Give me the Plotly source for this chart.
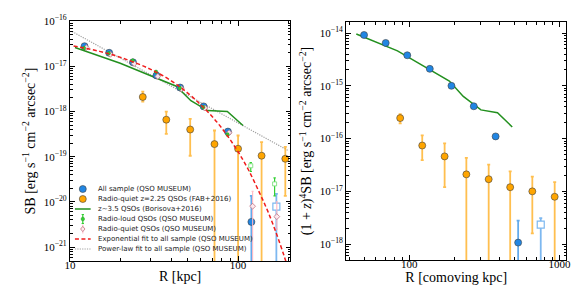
import plotly.graph_objects as go

W, H = 581, 291
MT, MB = 13, 38

# ---------------- Left panel (physical kpc) ----------------
# All sample (QSO MUSEUM)
R_all = [12.2, 17.1, 23.7, 32.7, 45.2, 62.4, 87.0, 120.0]
SB_all = [2.8e-17, 2.0e-17, 1.23e-17, 6.3e-18, 3.4e-18, 1.3e-18, 3.6e-19, 3.6e-21]
SB_all_hi = [3.0e-17, 2.1e-17, 1.3e-17, 6.7e-18, 3.6e-18, 1.4e-18, 3.9e-19, 1.35e-20]
SB_all_lo = [2.6e-17, 1.9e-17, 1.16e-17, 5.9e-18, 3.2e-18, 1.2e-18, 3.3e-19, 1e-23]
R_all_open = [169.0]
SB_all_open = [7.8e-21]
SB_all_open_hi = [1.5e-20]
SB_all_open_lo = [1e-23]

# Radio-loud QSOs (QSO MUSEUM)
R_rl = [12.1, 17.0, 23.6, 32.5, 45.0, 62.0, 86.5]
SB_rl = [2.55e-17, 1.95e-17, 1.35e-17, 7.6e-18, 3.3e-18, 1.25e-18, 3.1e-19]
SB_rl_hi = [2.7e-17, 2.05e-17, 1.42e-17, 8.0e-18, 3.5e-18, 1.32e-18, 3.3e-19]
SB_rl_lo = [2.4e-17, 1.85e-17, 1.28e-17, 7.2e-18, 3.1e-18, 1.18e-18, 2.9e-19]
R_rl_open = [119.0, 165.0]
SB_rl_open = [6.3e-20, 2.5e-20]
SB_rl_open_hi = [7.4e-20, 3.4e-20]
SB_rl_open_lo = [4.7e-20, 1.35e-20]

# Radio-quiet QSOs (QSO MUSEUM)
R_rq = [12.5, 17.4, 24.1, 33.3, 46.0, 63.5, 88.5, 122.0, 170.0]
SB_rq = [2.6e-17, 1.85e-17, 1.15e-17, 6.0e-18, 3.2e-18, 1.2e-18, 3.4e-19, 8.0e-21, 4.7e-21]
SB_rq_hi = [2.75e-17, 1.95e-17, 1.22e-17, 6.4e-18, 3.4e-18, 1.28e-18, 3.6e-19, 1.7e-20, 1.0e-20]
SB_rq_lo = [2.45e-17, 1.75e-17, 1.08e-17, 5.6e-18, 3.0e-18, 1.12e-18, 3.2e-19, 1e-23, 2.5e-21]

# Radio-quiet z=2.25 QSOs (FAB+2016)
R_fab = [27.1, 37.4, 51.9, 72.4, 100.0, 138.0, 191.0]
SB_fab = [2.1e-18, 6.6e-19, 4.0e-19, 1.9e-19, 1.5e-19, 1.05e-19, 9.0e-20]
SB_fab_hi = [2.75e-18, 1.0e-18, 6.9e-19, 3.8e-19, 2.95e-19, 2.1e-19, 1.65e-19]
SB_fab_lo = [1.66e-18, 3.2e-19, 1.05e-19, 1e-23, 1e-23, 1e-23, 1.35e-20]

# z~3.5 QSOs (Borisova+2016)
R_bor = [10.7, 19.9, 42.9, 47.1, 52.4, 65.9, 86.3, 107.0]
SB_bor = [2.63e-17, 1.17e-17, 3.63e-18, 2.51e-18, 1.74e-18, 1.05e-18, 1.0e-18, 4.9e-19]

# Exponential fit to all sample
R_exp = [10.5, 15, 20, 30, 40, 50, 62, 75, 87, 100, 115, 134, 150, 169, 188, 200]
SB_exp = [2.82e-17, 2.15e-17, 1.58e-17, 8.7e-18, 4.8e-18, 2.6e-18, 1.25e-18, 5.8e-19,
          2.8e-19, 1.29e-19, 5.2e-20, 1.6e-20, 6.3e-21, 2.0e-21, 6.3e-22, 3.1e-22]

# Power-law fit to all sample
R_pl = [10.3, 200.0]
SB_pl = [5.9e-17, 1.35e-19]

# ---------------- Right panel (comoving kpc, (1+z)^4 SB) ----------------
Rc_all = [50, 69.7, 97, 137, 191, 269, 376, 531]
SBc_all = [9.2e-15, 6.5e-15, 3.8e-15, 2.1e-15, 1.0e-15, 4.1e-16, 1.1e-16, 1.07e-18]
SBc_all_hi = [9.7e-15, 6.8e-15, 4.0e-15, 2.2e-15, 1.05e-15, 4.3e-16, 1.15e-16, 2.8e-18]
SBc_all_lo = [8.7e-15, 6.2e-15, 3.6e-15, 2.0e-15, 0.95e-15, 3.9e-16, 1.05e-16, 1e-23]
Rc_all_open = [751]
SBc_all_open = [2.35e-18]
SBc_all_open_hi = [3.1e-18]
SBc_all_open_lo = [1e-23]

Rc_fab = [87, 122, 172, 240, 338, 470, 660, 930]
SBc_fab = [2.45e-16, 7.4e-17, 4.6e-17, 2.1e-17, 1.7e-17, 1.2e-17, 1.0e-17, 7.9e-18]
SBc_fab_hi = [2.9e-16, 1.15e-16, 8.1e-17, 4.3e-17, 3.2e-17, 2.4e-17, 1.9e-17, 1.5e-17]
SBc_fab_lo = [1.95e-16, 3.9e-17, 1.2e-17, 1e-23, 1e-23, 1e-23, 1.6e-18, 1e-23]

Rc_bor = [44.4, 83.5, 185, 229, 300, 387, 485]
SBc_bor = [9.6e-15, 4.6e-15, 1.23e-15, 6.3e-16, 3.5e-16, 3.1e-16, 1.66e-16]

# ---------------- styles ----------------
BLUE = "#2186e3"
LBLUE = "#7db8f0"
ORANGE = "#ffa500"
ORANGE_ERR = "rgba(255,170,20,0.75)"
GREEN = "#23901f"
LGREEN = "#33d033"
PINK = "#c07080"
EDGE = "#404040"
RED = "#f01c1c"
GREY = "#a0a0a0"
RED_DASH = "4px,2.5px"
GREY_DOT = "1.2px,1.2px"


def err(y, hi, lo, color, thick=1.8, width=1.5):
    return dict(type="data", symmetric=False,
                array=[h - v for v, h in zip(y, hi)],
                arrayminus=[v - l for v, l in zip(y, lo)],
                color=color, thickness=thick, width=width)


fig = go.Figure()

# left panel traces
fig.add_trace(go.Scatter(x=R_pl, y=SB_pl, mode="lines",
                         line=dict(color=GREY, width=1.2, dash=GREY_DOT),
                         xaxis="x", yaxis="y", showlegend=False))
fig.add_trace(go.Scatter(x=R_bor, y=SB_bor, mode="lines",
                         line=dict(color=GREEN, width=1.5),
                         xaxis="x", yaxis="y", showlegend=False))
fig.add_trace(go.Scatter(x=R_fab, y=SB_fab, mode="markers",
                         error_y=err(SB_fab, SB_fab_hi, SB_fab_lo, ORANGE_ERR),
                         marker=dict(color=ORANGE, size=7, line=dict(color=EDGE, width=0.6)),
                         xaxis="x", yaxis="y", showlegend=False))
fig.add_trace(go.Scatter(x=R_all, y=SB_all, mode="markers",
                         error_y=err(SB_all, SB_all_hi, SB_all_lo, "rgba(33,134,227,0.7)"),
                         marker=dict(color=BLUE, size=7, line=dict(color=EDGE, width=0.6)),
                         xaxis="x", yaxis="y", showlegend=False))
fig.add_trace(go.Scatter(x=R_all_open, y=SB_all_open, mode="markers",
                         error_y=err(SB_all_open, SB_all_open_hi, SB_all_open_lo, LBLUE),
                         marker=dict(color="white", size=7, symbol="square",
                                     line=dict(color=LBLUE, width=1.2)),
                         xaxis="x", yaxis="y", showlegend=False))
fig.add_trace(go.Scatter(x=R_rq, y=SB_rq, mode="markers",
                         error_y=err(SB_rq, SB_rq_hi, SB_rq_lo, "rgba(255,182,193,0.9)", 1.2, 1),
                         marker=dict(color="rgba(255,235,240,0.9)", size=4.5, symbol="diamond",
                                     line=dict(color=PINK, width=0.8)),
                         xaxis="x", yaxis="y", showlegend=False))
fig.add_trace(go.Scatter(x=R_rl, y=SB_rl, mode="markers",
                         error_y=err(SB_rl, SB_rl_hi, SB_rl_lo, LGREEN, 1.2, 1),
                         marker=dict(color=LGREEN, size=3.5, line=dict(color="#1a8a1a", width=0.4)),
                         xaxis="x", yaxis="y", showlegend=False))
fig.add_trace(go.Scatter(x=R_rl_open, y=SB_rl_open, mode="markers",
                         error_y=err(SB_rl_open, SB_rl_open_hi, SB_rl_open_lo, LGREEN, 1.2, 1.2),
                         marker=dict(color="white", size=4, symbol="square",
                                     line=dict(color="#7ee07e", width=0.9)),
                         xaxis="x", yaxis="y", showlegend=False))
fig.add_trace(go.Scatter(x=R_exp, y=SB_exp, mode="lines", line_shape="spline",
                         line=dict(color=RED, width=1.5, dash=RED_DASH),
                         xaxis="x", yaxis="y", showlegend=False))

# right panel traces
fig.add_trace(go.Scatter(x=Rc_bor, y=SBc_bor, mode="lines",
                         line=dict(color=GREEN, width=1.5),
                         xaxis="x2", yaxis="y2", showlegend=False))
fig.add_trace(go.Scatter(x=Rc_fab, y=SBc_fab, mode="markers",
                         error_y=err(SBc_fab, SBc_fab_hi, SBc_fab_lo, ORANGE_ERR),
                         marker=dict(color=ORANGE, size=7, line=dict(color=EDGE, width=0.6)),
                         xaxis="x2", yaxis="y2", showlegend=False))
fig.add_trace(go.Scatter(x=Rc_all, y=SBc_all, mode="markers",
                         error_y=err(SBc_all, SBc_all_hi, SBc_all_lo, "rgba(33,134,227,0.7)"),
                         marker=dict(color=BLUE, size=7, line=dict(color=EDGE, width=0.6)),
                         xaxis="x2", yaxis="y2", showlegend=False))
fig.add_trace(go.Scatter(x=Rc_all_open, y=SBc_all_open, mode="markers",
                         error_y=err(SBc_all_open, SBc_all_open_hi, SBc_all_open_lo, LBLUE),
                         marker=dict(color="white", size=7, symbol="square",
                                     line=dict(color=LBLUE, width=1.2)),
                         xaxis="x2", yaxis="y2", showlegend=False))

# ---------------- axes ----------------
SERIF = "Liberation Serif"


def sup_ticks(exps):
    return [10.0 ** e for e in exps], ["10<sup>\u2212%d</sup>" % (-e) for e in exps]


def minor_vals(lo, hi):
    return [m * 10.0 ** d for d in range(lo, hi) for m in range(2, 10)]


axis_common = dict(type="log", showgrid=False, zeroline=False, showline=True,
                   linecolor="black", linewidth=1.2, mirror="allticks",
                   ticks="inside", ticklen=4.5, tickwidth=1, tickcolor="black",
                   tickfont=dict(family=SERIF, size=11, color="black"))

yl_vals, yl_text = sup_ticks([-21, -20, -19, -18, -17, -16])
yr_vals, yr_text = sup_ticks([-18, -17, -16, -15, -14])

fig.update_layout(
    width=W, height=H,
    margin=dict(l=0, r=0, t=MT, b=MB),
    paper_bgcolor="white", plot_bgcolor="white",
    showlegend=False,
    xaxis=dict(axis_common, domain=[57 / W, 281 / W], range=[1.0, 2.31],
               tickmode="array", tickvals=[10, 100], ticktext=["10", "100"],
               ticklabelstandoff=-6,
               minor=dict(tickmode="array", tickvals=[20, 30, 40, 50, 60, 70, 80, 90, 200],
                          ticks="inside", ticklen=2.5, tickwidth=0.8, tickcolor="black"),
               title=dict(text="R [kpc]", font=dict(family=SERIF, size=14, color="black"),
                          standoff=0),
               anchor="y"),
    yaxis=dict(axis_common, domain=[0, 1], range=[-21.31, -15.995],
               tickmode="array", tickvals=yl_vals, ticktext=yl_text,
               minor=dict(tickmode="array", tickvals=minor_vals(-22, -16),
                          ticks="inside", ticklen=2.5, tickwidth=0.8, tickcolor="black"),
               title=dict(text="SB [erg s<sup>\u22121</sup> cm<sup>\u22122</sup> arcsec<sup>\u22122</sup>]",
                          font=dict(family=SERIF, size=14, color="black"), standoff=4),
               anchor="x"),
    xaxis2=dict(axis_common, domain=[338 / W, 562 / W], range=[1.58, 3.046],
                tickmode="array", tickvals=[100, 1000], ticktext=["100", "1000"],
                ticklabelstandoff=-6,
                minor=dict(tickmode="array",
                           tickvals=[40, 50, 60, 70, 80, 90, 200, 300, 400, 500, 600, 700, 800, 900],
                           ticks="inside", ticklen=2.5, tickwidth=0.8, tickcolor="black"),
                title=dict(text="R [comoving kpc]", font=dict(family=SERIF, size=14, color="black"),
                           standoff=0),
                anchor="y2"),
    yaxis2=dict(axis_common, domain=[(H - MT - MB - (252 - 14)) / (H - MT - MB) - 0.004, 1 - 1 / 240],
                range=[-18.30, -13.79],
                tickmode="array", tickvals=yr_vals, ticktext=yr_text,
                minor=dict(tickmode="array", tickvals=minor_vals(-19, -13),
                           ticks="inside", ticklen=2.5, tickwidth=0.8, tickcolor="black"),
                title=dict(text="(1 + <i>z</i>)<sup>4</sup>SB [erg s<sup>\u22121</sup> cm<sup>\u22122</sup> arcsec<sup>\u22122</sup>]",
                           font=dict(family=SERIF, size=14, color="black"), standoff=4),
                anchor="x2"),
)

# ---------------- legend (inside left panel) ----------------
def px(x):
    return x / W


def py(y):
    return (H - MB - y) / (H - MT - MB)


leg_labels = ["All sample (QSO MUSEUM)",
              "Radio-quiet z=2.25 QSOs (FAB+2016)",
              "z~3.5 QSOs (Borisova+2016)",
              "Radio-loud QSOs (QSO MUSEUM)",
              "Radio-quiet QSOs (QSO MUSEUM)",
              "Exponential fit to all sample (QSO MUSEUM)",
              "Power-law fit to all sample (QSO MUSEUM)"]
leg_y0, leg_dy, key_x, text_x = 181, 10, 70, 83

shapes = []
annos = []
for i, lab in enumerate(leg_labels):
    yy = leg_y0 + i * leg_dy
    annos.append(dict(x=px(text_x), y=py(yy), xref="paper", yref="paper", text=lab,
                      showarrow=False, xanchor="left", yanchor="middle",
                      font=dict(family="DejaVu Sans", size=7, color="#222")))
    cx, cy = px(key_x), py(yy)
    if i in (0, 1):
        col = BLUE if i == 0 else ORANGE
        shapes.append(dict(type="circle", xref="paper", yref="paper", xsizemode="pixel",
                           ysizemode="pixel", xanchor=cx, yanchor=cy, x0=-3.5, x1=3.5,
                           y0=-3.5, y1=3.5, fillcolor=col, line=dict(color=EDGE, width=0.6)))
    elif i in (2, 5, 6):
        col, dash, wd = [(GREEN, "solid", 1.5), (RED, RED_DASH, 1.5), (GREY, GREY_DOT, 1.2)][[2, 5, 6].index(i)]
        shapes.append(dict(type="line", xref="paper", yref="paper", x0=px(key_x - 8),
                           x1=px(key_x + 8), y0=cy, y1=cy, line=dict(color=col, width=wd, dash=dash)))
    elif i == 3:
        shapes.append(dict(type="line", xref="paper", yref="paper", x0=cx, x1=cx,
                           y0=py(yy - 4.5), y1=py(yy + 4.5), line=dict(color=LGREEN, width=1.2)))
        for dy in (-4.5, 4.5):
            shapes.append(dict(type="line", xref="paper", yref="paper", x0=px(key_x - 1.2),
                               x1=px(key_x + 1.2), y0=py(yy + dy), y1=py(yy + dy),
                               line=dict(color=LGREEN, width=1)))
        shapes.append(dict(type="circle", xref="paper", yref="paper", xsizemode="pixel",
                           ysizemode="pixel", xanchor=cx, yanchor=cy, x0=-1.8, x1=1.8,
                           y0=-1.8, y1=1.8, fillcolor=LGREEN, line=dict(color="#1a8a1a", width=0.4)))
    elif i == 4:
        shapes.append(dict(type="line", xref="paper", yref="paper", x0=cx, x1=cx,
                           y0=py(yy - 4.5), y1=py(yy + 4.5), line=dict(color="pink", width=1.2)))
        shapes.append(dict(type="path", xref="paper", yref="paper", xsizemode="pixel",
                           ysizemode="pixel", xanchor=cx, yanchor=cy,
                           path="M 0 2.6 L 2.2 0 L 0 -2.6 L -2.2 0 Z",
                           fillcolor="rgba(255,235,240,1)", line=dict(color=PINK, width=0.8)))

fig.update_layout(shapes=shapes, annotations=annos)

fig.write_html("out.html")
